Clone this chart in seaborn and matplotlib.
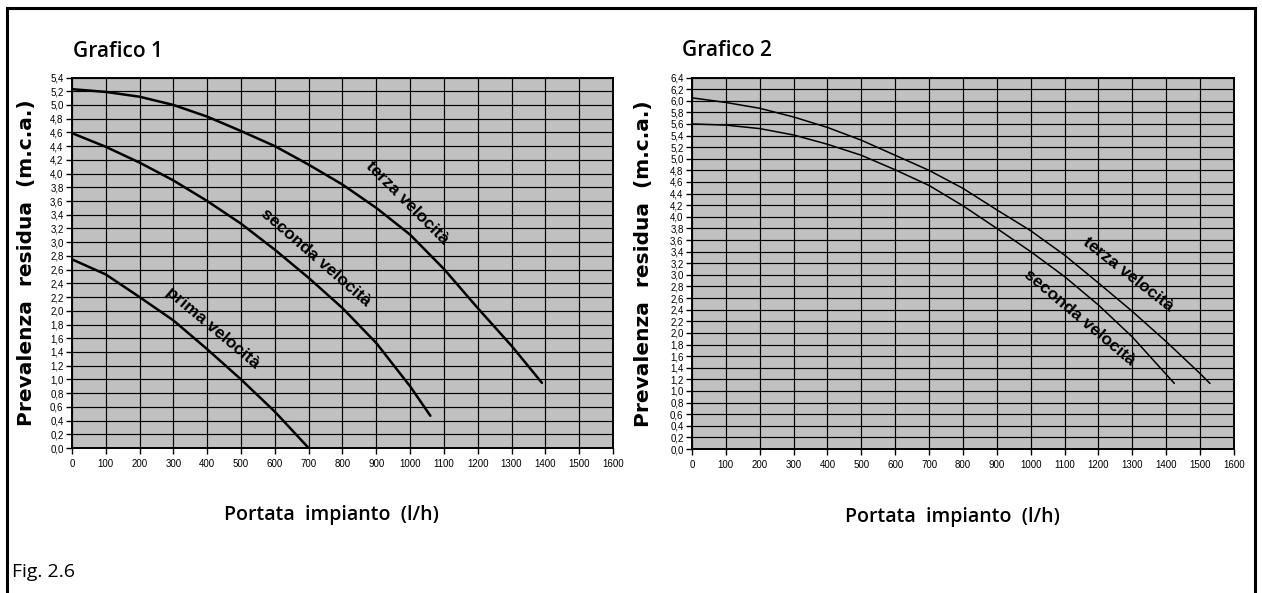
import numpy as np
import pandas as pd
import seaborn as sns
import matplotlib.pyplot as plt
from matplotlib.ticker import FuncFormatter
from matplotlib.lines import Line2D

# Grafico 1 - curve
g1_prima_x = [0, 100, 200, 300, 400, 500, 600, 700]
g1_prima_y = [2.75, 2.53, 2.20, 1.86, 1.44, 1.00, 0.53, 0.00]

g1_seconda_x = [0, 100, 200, 300, 400, 500, 600, 700, 800, 900, 1000, 1060]
g1_seconda_y = [4.59, 4.39, 4.16, 3.90, 3.60, 3.27, 2.89, 2.48, 2.04, 1.53, 0.90, 0.47]

g1_terza_x = [0, 100, 200, 300, 400, 500, 600, 700, 800, 900, 1000, 1100, 1200, 1300, 1390]
g1_terza_y = [5.23, 5.19, 5.12, 5.00, 4.83, 4.62, 4.40, 4.13, 3.84, 3.50, 3.11, 2.61, 2.04, 1.49, 0.95]

# Grafico 2
g2_seconda_x = [0, 100, 200, 300, 400, 500, 600, 700, 800, 900, 1000, 1100, 1200, 1300, 1424]
g2_seconda_y = [5.60, 5.58, 5.52, 5.41, 5.25, 5.06, 4.81, 4.54, 4.19, 3.80, 3.40, 2.97, 2.48, 1.93, 1.13]

g2_terza_x = [0, 100, 200, 300, 400, 500, 600, 700, 800, 900, 1000, 1100, 1200, 1300, 1400, 1500, 1529]
g2_terza_y = [6.05, 5.97, 5.87, 5.72, 5.54, 5.32, 5.06, 4.80, 4.49, 4.12, 3.76, 3.34, 2.86, 2.37, 1.85, 1.30, 1.13]

x_ticks = list(range(0, 1601, 100))
y_max_1 = 5.4
y_max_2 = 6.4

titles = ["Grafico 1", "Grafico 2"]
x_label = "Portata  impianto  (l/h)"
y_label = "Prevalenza  residua  (m.c.a.)"
fig_label = "Fig. 2.6"


def to_df(curves):
    frames = []
    for name, xs, ys in curves:
        frames.append(pd.DataFrame({"portata": xs, "prevalenza": ys, "velocita": name}))
    return pd.concat(frames, ignore_index=True)


df1 = to_df([("prima", g1_prima_x, g1_prima_y),
             ("seconda", g1_seconda_x, g1_seconda_y),
             ("terza", g1_terza_x, g1_terza_y)])
df2 = to_df([("seconda", g2_seconda_x, g2_seconda_y),
             ("terza", g2_terza_x, g2_terza_y)])

sns.set_theme(style="whitegrid", rc={
    "axes.facecolor": "#C0C0C0",
    "axes.edgecolor": "black",
    "axes.labelcolor": "black",
    "text.color": "black",
    "xtick.color": "black",
    "ytick.color": "black",
    "grid.color": "black",
    "grid.linewidth": 0.8,
    "xtick.bottom": True,
    "ytick.left": True,
})
plt.rcParams["font.family"] = ["Liberation Sans", "DejaVu Sans"]

fig = plt.figure(figsize=(12.62, 5.93), dpi=100)
ax1 = fig.add_axes([0.0570, 0.2445, 0.4287, 0.6248])
ax2 = fig.add_axes([0.5483, 0.2428, 0.4295, 0.6265])

black = {"prima": "black", "seconda": "black", "terza": "black"}
sns.lineplot(data=df1, x="portata", y="prevalenza", hue="velocita", palette=black,
             estimator=None, sort=False, legend=False, linewidth=1.8, ax=ax1)
sns.lineplot(data=df2, x="portata", y="prevalenza", hue="velocita", palette=black,
             estimator=None, sort=False, legend=False, linewidth=1.1, ax=ax2)

comma = FuncFormatter(lambda v, p: f"{v:.1f}".replace(".", ","))

for ax, ymax, title, tx in [(ax1, y_max_1, titles[0], 0.002), (ax2, y_max_2, titles[1], -0.018)]:
    ax.set_xlim(0, 1600)
    ax.set_ylim(0, ymax)
    ax.set_xticks(x_ticks)
    ax.set_yticks(np.round(np.arange(0, ymax + 0.01, 0.2), 1))
    ax.yaxis.set_major_formatter(comma)
    ax.tick_params(axis="both", labelsize=7, length=4, width=1, pad=2, color="black", direction="out")
    ax.tick_params(axis="x", pad=4)
    for s in ax.spines.values():
        s.set_linewidth(1.4)
        s.set_color("black")
    ax.grid(True, color="black", linewidth=0.85)
    ax.set_xlabel(x_label, family="Open Sans", fontsize=14, fontweight="semibold")
    ax.set_ylabel(y_label, family="DejaVu Sans", fontsize=14.5, fontweight="bold")
    ax.xaxis.set_label_coords(0.48, -0.155)
    ax.text(tx, 1.0715, title, transform=ax.transAxes, family="Open Sans",
            fontsize=15, fontweight="semibold", va="center", ha="left")

ax1.yaxis.set_label_coords(-0.066, 0.5)
ax2.yaxis.set_label_coords(-0.071, 0.5)

lab = dict(fontsize=12.5, fontweight="bold", ha="center", va="center", rotation_mode="anchor")
ax1.text(990, 3.57, "terza velocità", rotation=-45, **lab)
ax1.text(722, 2.77, "seconda velocità", rotation=-41, **lab)
ax1.text(417, 1.75, "prima velocità", rotation=-40, **lab)
ax2.text(1287, 3.0, "terza velocità", rotation=-38, **lab)
ax2.text(1145, 2.27, "seconda velocità", rotation=-40, **lab)

fig.text(12 / 1262, 1 - 572 / 593, fig_label, family="Open Sans", fontsize=14,
         va="center", ha="left")

# outer frame, open at the bottom
W, H = 1262, 593
frame_x = [7 / W, 7 / W, 1255 / W, 1255 / W]
frame_y = [-0.05, 1 - 8 / H, 1 - 8 / H, -0.05]
fig.add_artist(Line2D(frame_x, frame_y, color="black", linewidth=2.2,
                      transform=fig.transFigure, solid_joinstyle="miter"))

fig.savefig("out.png", dpi=100, facecolor="white")
